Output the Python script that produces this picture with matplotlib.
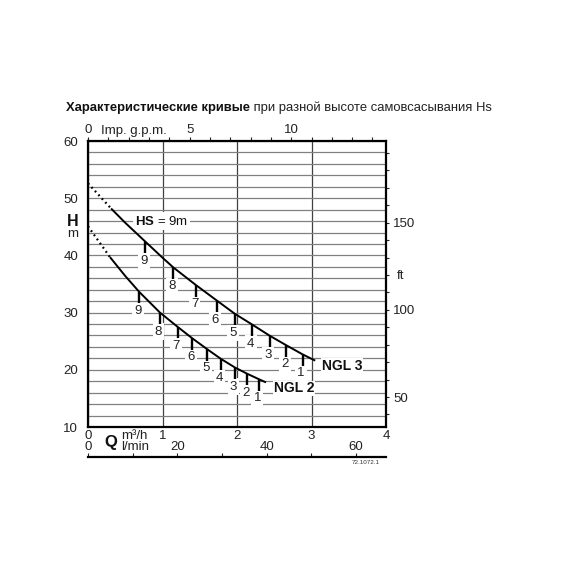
import numpy as np
import matplotlib
matplotlib.use('Agg')
import matplotlib.pyplot as plt
from matplotlib.ticker import MultipleLocator, FixedLocator

plt.rcParams['font.family'] = ['Liberation Sans', 'DejaVu Sans']
plt.rcParams['mathtext.fontset'] = 'custom'
plt.rcParams['mathtext.rm'] = 'Liberation Sans'
plt.rcParams['mathtext.bf'] = 'Liberation Sans:bold'

# ---- data ----
# NGL 3 curve (Q in m3/h, H in m)
ngl3_dot_q = [0.0, 0.31]
ngl3_dot_h = [52.6, 48.2]
ngl3_q = [0.31, 0.50, 0.77, 1.00, 1.145, 1.45, 1.73, 1.97, 2.205, 2.44, 2.66, 2.88, 3.05]
ngl3_h = [48.2, 45.7, 42.4, 39.6, 37.9, 34.8, 32.1, 29.8, 27.9, 25.95, 24.3, 22.7, 21.6]
# suction-height ticks on NGL 3 (HS = 9 ... 1 m)
hs_labels = [9, 8, 7, 6, 5, 4, 3, 2, 1]
ngl3_hs_q = [0.77, 1.145, 1.45, 1.73, 1.97, 2.205, 2.44, 2.66, 2.88]
ngl3_hs_h = [42.4, 37.9, 34.8, 32.1, 29.8, 27.9, 25.95, 24.3, 22.7]

# NGL 2 curve
ngl2_dot_q = [0.0, 0.295]
ngl2_dot_h = [45.1, 39.7]
ngl2_q = [0.295, 0.50, 0.689, 0.966, 1.204, 1.40, 1.60, 1.785, 1.973, 2.138, 2.295, 2.389]
ngl2_h = [39.7, 36.4, 33.6, 30.0, 27.5, 25.5, 23.6, 21.9, 20.4, 19.3, 18.35, 17.8]
ngl2_hs_q = [0.689, 0.966, 1.204, 1.40, 1.60, 1.785, 1.973, 2.138, 2.295]
ngl2_hs_h = [33.6, 30.0, 27.5, 25.5, 23.6, 21.9, 20.4, 19.3, 18.35]

y_ticks = [10, 20, 30, 40, 50, 60]
x_ticks = [0, 1, 2, 3, 4]
gpm_ticks = [0, 5, 10]
ft_ticks = [50, 100, 150]
lmin_ticks = [0, 20, 40, 60]

W = 570.0
fig = plt.figure(figsize=(5.7, 5.7), dpi=100)
ax = fig.add_axes([88 / W, 1 - 427 / W, 298 / W, 286 / W])
ax.set_xlim(0, 4)
ax.set_ylim(10, 60)

# grid
ax.set_yticks(y_ticks)
ax.yaxis.set_minor_locator(MultipleLocator(2))
ax.set_xticks(x_ticks)
ax.grid(axis='y', which='both', color='#808080', lw=0.9, zorder=1)
ax.grid(axis='x', which='major', color='#404040', lw=0.9, zorder=1)
ax.tick_params(axis='both', which='both', length=0, labelsize=9.5, colors='#222222')
ax.tick_params(axis='y', pad=7)
ax.tick_params(axis='x', pad=2.5)
for s in ax.spines.values():
    s.set_linewidth(1.6)
    s.set_color('black')
    s.set_zorder(6)

# top axis: Imp. g.p.m.
GPM = 0.272765
top = ax.secondary_xaxis('top', functions=(lambda q: q / GPM, lambda g: g * GPM))
top.xaxis.set_major_locator(FixedLocator(gpm_ticks))
top.xaxis.set_minor_locator(MultipleLocator(1))
top.tick_params(which='both', direction='out', length=3, width=0.8, labelsize=9.5, pad=0.5, colors='#222222')
top.spines['top'].set_visible(False)

# right axis: ft
FT = 3.28084
right = ax.secondary_yaxis('right', functions=(lambda m: m * FT, lambda f: f / FT))
right.yaxis.set_major_locator(FixedLocator(ft_ticks))
right.yaxis.set_minor_locator(MultipleLocator(10))
right.tick_params(which='both', direction='out', length=2.5, width=0.8, labelsize=9.5, pad=2.5, colors='#222222')
right.spines['right'].set_visible(False)

# bottom extra axis: l/min
bot = ax.secondary_xaxis(-(456.5 - 427) / 286, functions=(lambda q: q * 1000 / 60, lambda l: l * 60 / 1000))
bot.xaxis.set_major_locator(FixedLocator(lmin_ticks))
bot.xaxis.set_minor_locator(FixedLocator([10, 30, 50]))
bot.xaxis.set_ticks_position('top')
bot.tick_params(which='both', direction='out', length=2.5, width=0.8, labelsize=9.5, pad=0.0,
                labeltop=True, labelbottom=False, colors='#222222')
bot.spines['bottom'].set_linewidth(1.6)
bot.spines['top'].set_visible(False)

# curves
for dq, dh, q, h in [(ngl3_dot_q, ngl3_dot_h, ngl3_q, ngl3_h),
                     (ngl2_dot_q, ngl2_dot_h, ngl2_q, ngl2_h)]:
    ax.plot(dq, dh, color='black', lw=1.6, ls=(0, (0.8, 1.5)), zorder=5, clip_on=False)
    ax.plot(q, h, color='black', lw=1.4, zorder=5, solid_capstyle='butt')

for hq, hh in [(ngl3_hs_q, ngl3_hs_h), (ngl2_hs_q, ngl2_hs_h)]:
    ax.vlines(hq, np.array(hh) - 2.0, hh, color='black', lw=1.7, zorder=5)
    for lab, q, h in zip(hs_labels, hq, hh):
        ax.annotate(str(lab), (q, h), xytext=(-1.5, -19), textcoords='offset pixels',
                    ha='center', va='center', fontsize=9.5, color='#222222', zorder=4,
                    bbox=dict(fc='white', ec='none', pad=1.6))

ax.text(0.63, 46, r'$\mathbf{HS}$ = 9m', fontsize=9.5, ha='left', va='center',
        color='#111111', zorder=4, bbox=dict(fc='white', ec='none', pad=1.6))

ax.text(3.14, 20.7, 'NGL 3', fontsize=10, fontweight='bold', ha='left', va='center', color='#111111',
        zorder=4, bbox=dict(fc='white', ec='none', pad=0.6))
ax.text(2.50, 16.75, 'NGL 2', fontsize=10, fontweight='bold', ha='left', va='center', color='#111111',
        zorder=4, bbox=dict(fc='white', ec='none', pad=0.6))

# labels in figure pixel coords
def fx(x):
    return x / W
def fy(y):
    return 1 - y / W

fig.text(fx(134), fy(131), 'Imp. g.p.m.', fontsize=9.5, ha='center', va='center', color='#222222')
fig.text(fx(73), fy(221), 'H', fontsize=11.5, fontweight='bold', ha='center', va='center', color='#111111')
fig.text(fx(73), fy(234), 'm', fontsize=9.5, ha='center', va='center', color='#222222')
fig.text(fx(396.5), fy(275.5), 'ft', fontsize=9.5, ha='left', va='center', color='#222222')
fig.text(fx(110.5), fy(443), 'Q', fontsize=12, fontweight='bold', ha='center', va='center', color='#111111')
fig.text(fx(121.5), fy(436), 'm³/h', fontsize=9.5, ha='left', va='center', color='#222222')
fig.text(fx(121.5), fy(447.5), 'l/min', fontsize=9.5, ha='left', va='center', color='#222222')
fig.text(fx(365.5), fy(462.5), '72.1072.1', fontsize=4.5, ha='center', va='center', color='#333333')

t1 = fig.text(fx(66), fy(113.5), 'Характеристические кривые', fontsize=9.4, fontweight='bold',
              ha='left', va='bottom', color='#111111')
plt.annotate(' при разной высоте самовсасывания Hs', xy=(1, 0), xycoords=t1, ha='left', va='bottom',
             fontsize=9.4, color='#222222', annotation_clip=False)

fig.savefig('out.png', dpi=100, facecolor='white')
